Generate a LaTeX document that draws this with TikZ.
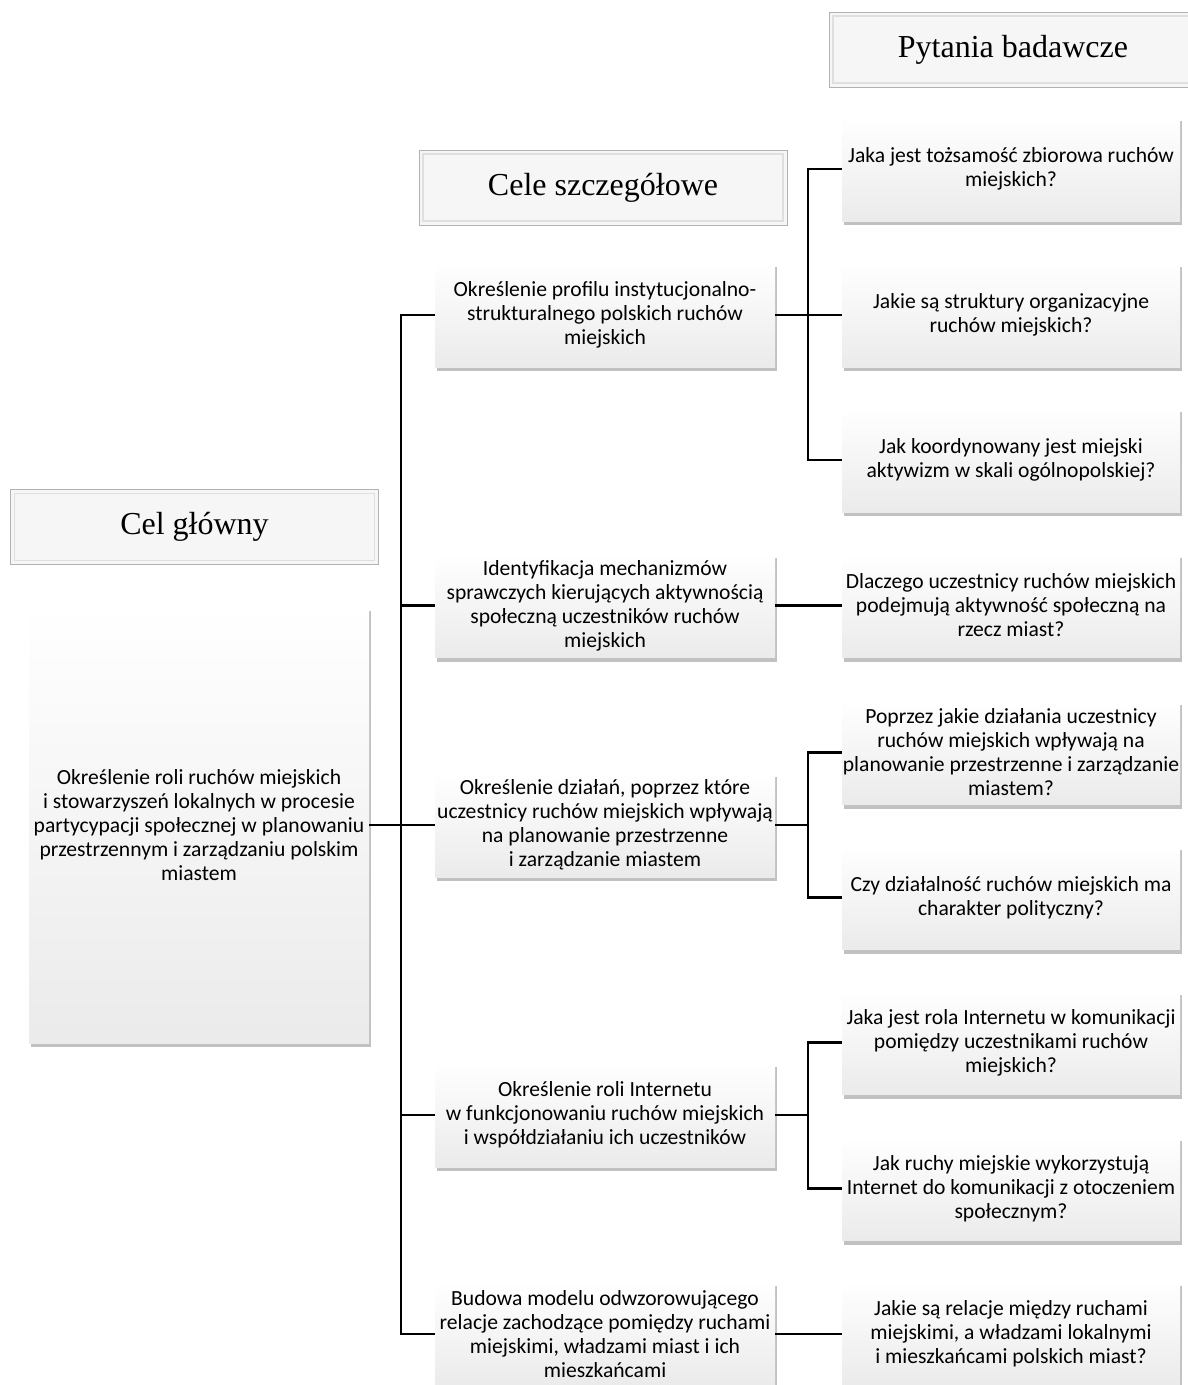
\documentclass[tikz,border=0pt]{standalone}
\usepackage{fontspec}
\setmainfont{Liberation Serif}
\newfontfamily\calib{Carlito}
\usetikzlibrary{shadows}
\tikzset{
  box/.style={rectangle, inner sep=0pt, align=center, top color=white, bottom color=gray!16,
    font=\calib\fontsize{21.6}{24}\selectfont,
    drop shadow={shadow xshift=1.5pt, shadow yshift=-4pt, opacity=0.4, fill=gray!80!black}},
  cele/.style={box, minimum width=340pt, minimum height=104pt},
  pyt/.style={box, minimum width=338pt, minimum height=104pt},
  header/.style={rectangle, inner sep=0pt, fill=gray!7, draw=gray!60, line width=1pt,
    minimum width=368pt, minimum height=75pt, font=\fontsize{32}{36}\selectfont,
    path picture={\draw[gray!25, line width=1.5pt]
      ([shift={(4pt,-4pt)}]path picture bounding box.north west) rectangle
      ([shift={(-4pt,4pt)}]path picture bounding box.south east);}},
  conn/.style={draw=black, line width=2.5pt}
}
\begin{document}
\begin{tikzpicture}[x=1pt,y=-1pt]
\clip (0,0) rectangle (1188,1385);
\fill[white] (0,0) rectangle (1188,1385);
% headers
\node[header] (hp) at (1013,49.5) {Pytania badawcze};
\node[header] (hc) at (603,187.5) {Cele szczegółowe};
\node[header] (hg) at (194.5,527) {Cel główny};
% main
\node[box, minimum width=340pt, minimum height=436pt] (main) at (199,825)
  {Określenie roli ruchów miejskich\\i stowarzyszeń lokalnych w procesie\\partycypacji społecznej w planowaniu\\przestrzennym i zarządzaniu polskim\\miastem};
% cele
\node[cele] (c1) at (605,315) {Określenie profilu instytucjonalno-\\strukturalnego polskich ruchów\\miejskich};
\node[cele] (c2) at (605,605.5) {Identyfikacja mechanizmów\\sprawczych kierujących aktywnością\\społeczną uczestników ruchów\\miejskich};
\node[cele] (c3) at (605,825) {Określenie działań, poprzez które\\uczestnicy ruchów miejskich wpływają\\na planowanie przestrzenne\\i zarządzanie miastem};
\node[cele] (c4) at (605,1115) {Określenie roli Internetu\\w funkcjonowaniu ruchów miejskich\\i współdziałaniu ich uczestników};
\node[cele] (c5) at (605,1334) {Budowa modelu odwzorowującego\\relacje zachodzące pomiędzy ruchami\\miejskimi, władzami miast i ich\\mieszkańcami};
% pytania
\node[pyt] (p1) at (1011,169) {Jaka jest tożsamość zbiorowa ruchów\\miejskich?};
\node[pyt] (p2) at (1011,315) {Jakie są struktury organizacyjne\\ruchów miejskich?};
\node[pyt] (p3) at (1011,460) {Jak koordynowany jest miejski\\aktywizm w skali ogólnopolskiej?};
\node[pyt] (p4) at (1011,605.5) {Dlaczego uczestnicy ruchów miejskich\\podejmują aktywność społeczną na\\rzecz miast?};
\node[pyt] (p5) at (1011,752.5) {Poprzez jakie działania uczestnicy\\ruchów miejskich wpływają na\\planowanie przestrzenne i zarządzanie\\miastem?};
\node[pyt] (p6) at (1011,897.5) {Czy działalność ruchów miejskich ma\\charakter polityczny?};
\node[pyt] (p7) at (1011,1042.5) {Jaka jest rola Internetu w komunikacji\\pomiędzy uczestnikami ruchów\\miejskich?};
\node[pyt] (p8) at (1011,1188.5) {Jak ruchy miejskie wykorzystują\\Internet do komunikacji z otoczeniem\\społecznym?};
\node[pyt] (p9) at (1011,1334) {Jakie są relacje między ruchami\\miejskimi, a władzami lokalnymi\\i mieszkańcami polskich miast?};
% connectors left
\draw[conn] (main.east) -- (c3.west);
\draw[conn] (c1.west) -- ++(-34,0) |- (c5.west);
\draw[conn] (c2.west) -- ++(-34,0);
\draw[conn] (c4.west) -- ++(-34,0);
% connectors right
\draw[conn] (c1.east) -- (p2.west);
\draw[conn] (p1.west) -- ++(-34,0) |- (p3.west);
\draw[conn] (c2.east) -- (p4.west);
\draw[conn] (c3.east) -- ++(33,0);
\draw[conn] (p5.west) -- ++(-34,0) |- (p6.west);
\draw[conn] (c4.east) -- ++(33,0);
\draw[conn] (p7.west) -- ++(-34,0) |- (p8.west);
\draw[conn] (c5.east) -- (p9.west);
\end{tikzpicture}
\end{document}
